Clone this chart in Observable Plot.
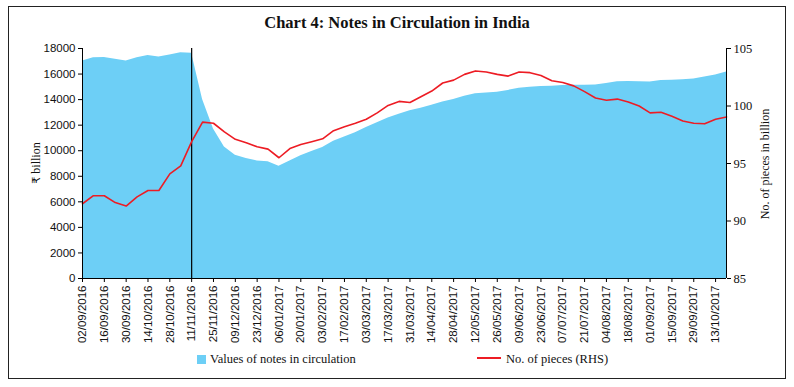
<!DOCTYPE html>
<html><head><meta charset="utf-8">
<script src="https://cdn.jsdelivr.net/npm/d3@7"></script>
<script src="https://cdn.jsdelivr.net/npm/@observablehq/plot@0.6"></script>
<style>
body{margin:0;background:#fff;}
#wrap{position:relative;width:794px;height:387px;overflow:hidden;background:#fff;}
#border{position:absolute;left:8px;top:6px;width:776px;height:371px;border:1.5px solid #222;box-sizing:content-box;}
#title{position:absolute;left:0;top:13px;width:794px;text-align:center;font:bold 16.5px "Liberation Serif";color:#111;}
#chart{position:absolute;left:0;top:0;}
.ytitle{position:absolute;font:12px "Liberation Serif","DejaVu Serif";color:#111;white-space:nowrap;transform:translate(-50%,-50%) rotate(-90deg);}
.rupee{font-family:"DejaVu Sans","Noto Sans";font-size:11px;color:#111;}
.leg{position:absolute;font:12.5px "Liberation Serif";color:#111;white-space:nowrap;}
</style></head>
<body>
<div id="wrap">
  <div id="border"></div>
  <div id="title">Chart 4: Notes in Circulation in India</div>
  <div id="chart"></div>
  <div class="ytitle" style="left:36px;top:163px;"><span class="rupee">₹</span> billion</div>
  <div class="ytitle" style="left:765px;top:164px;">No. of pieces in billion</div>
  <div class="leg" style="left:197px;top:352px;"><span style="display:inline-block;width:9px;height:9px;background:#6DCFF6;margin-right:4px;vertical-align:-1px;"></span>Values of notes in circulation</div>
  <div class="leg" style="left:477px;top:352px;"><span style="display:inline-block;width:24px;height:2px;background:#ED1C24;margin-right:5px;vertical-align:4px;"></span>No. of pieces (RHS)</div>
</div>
<script>
const dates = [
"02/09/2016","09/09/2016","16/09/2016","23/09/2016","30/09/2016","07/10/2016","14/10/2016","21/10/2016","28/10/2016","04/11/2016",
"11/11/2016","18/11/2016","25/11/2016","02/12/2016","09/12/2016","16/12/2016","23/12/2016","30/12/2016","06/01/2017","13/01/2017",
"20/01/2017","27/01/2017","03/02/2017","10/02/2017","17/02/2017","24/02/2017","03/03/2017","10/03/2017","17/03/2017","24/03/2017",
"31/03/2017","07/04/2017","14/04/2017","21/04/2017","28/04/2017","05/05/2017","12/05/2017","19/05/2017","26/05/2017","02/06/2017",
"09/06/2017","16/06/2017","23/06/2017","30/06/2017","07/07/2017","14/07/2017","21/07/2017","28/07/2017","04/08/2017","11/08/2017",
"18/08/2017","25/08/2017","01/09/2017","08/09/2017","15/09/2017","22/09/2017","29/09/2017","06/10/2017","13/10/2017","20/10/2017"];
const notesValue = [
17030,17270,17300,17160,17030,17270,17450,17340,17500,17660,
17620,14000,11700,10300,9650,9400,9200,9130,8790,9200,
9600,9940,10250,10750,11080,11400,11820,12180,12570,12860,
13120,13330,13560,13820,14010,14270,14450,14520,14580,14720,
14890,14970,15030,15050,15100,15120,15130,15150,15260,15390,
15410,15390,15370,15500,15520,15550,15620,15760,15930,16170];
const piecesCount = [
91.5,92.2,92.2,91.6,91.3,92.1,92.65,92.65,94.1,94.8,
96.9,98.6,98.5,97.75,97.1,96.8,96.45,96.25,95.5,96.3,
96.65,96.9,97.15,97.85,98.2,98.5,98.85,99.4,100.05,100.4,
100.3,100.8,101.3,102.0,102.25,102.75,103.05,102.95,102.75,102.6,
102.95,102.9,102.65,102.2,102.05,101.75,101.25,100.7,100.5,100.6,
100.35,100.0,99.4,99.45,99.1,98.7,98.5,98.45,98.85,99.05];
const xTickLabels = [
"02/09/2016","16/09/2016","30/09/2016","14/10/2016","28/10/2016","11/11/2016","25/11/2016","09/12/2016","23/12/2016","06/01/2017",
"20/01/2017","03/02/2017","17/02/2017","03/03/2017","17/03/2017","31/03/2017","14/04/2017","28/04/2017","12/05/2017","26/05/2017",
"09/06/2017","23/06/2017","07/07/2017","21/07/2017","04/08/2017","18/08/2017","01/09/2017","15/09/2017","29/09/2017","13/10/2017"];
const leftTicks = [0,2000,4000,6000,8000,10000,12000,14000,16000,18000];
const rightTicks = [85,90,95,100,105];
const demonetisationDate = "11/11/2016";

const parse = d3.utcParse("%d/%m/%Y");
const fmt = d3.utcFormat("%d/%m/%Y");
const leftMax = 18000, rMin = 85, rMax = 105;
const K = leftMax / (rMax - rMin);
const toLeft = v => (v - rMin) * K;
const data = dates.map((d, i) => ({date: parse(d), value: notesValue[i], pieces: piecesCount[i]}));
const x0 = parse(dates[0]), x1 = parse(dates[dates.length - 1]);

const chart = Plot.plot({
  width: 794, height: 387,
  marginLeft: 82, marginRight: 68, marginTop: 48, marginBottom: 109,
  style: {fontFamily: "Liberation Sans", fontSize: "11.5px", color: "#111", background: "transparent", overflow: "visible"},
  x: {type: "utc", domain: [x0, x1]},
  y: {domain: [0, leftMax]},
  marks: [
    Plot.areaY(data, {x: "date", y: "value", fill: "#6DCFF6"}),
    Plot.ruleX([parse(demonetisationDate)], {stroke: "#000", strokeWidth: 1.2}),
    Plot.lineY(data, {x: "date", y: d => toLeft(d.pieces), stroke: "#ED1C24", strokeWidth: 1.6}),
    Plot.ruleY([0], {stroke: "#000", strokeWidth: 1}),
    Plot.ruleX([x0, x1], {stroke: "#000", strokeWidth: 1}),
    Plot.axisX(xTickLabels.map(parse), {tickFormat: fmt, tickRotate: -90, tickSize: 4, tickPadding: 3, label: null, stroke: "#000"}),
    Plot.axisY(leftTicks, {anchor: "left", tickSize: 4, tickPadding: 3, tickFormat: d => String(d), label: null, stroke: "#000"}),
    Plot.axisY(rightTicks.map(toLeft), {anchor: "right", tickSize: 4, tickPadding: 3, tickFormat: d => String(Math.round(d / K + rMin)), label: null, stroke: "#000", fontFamily: "Liberation Serif", fontSize: 12.5})
  ]
});
document.getElementById("chart").appendChild(chart);
</script>
</body></html>
